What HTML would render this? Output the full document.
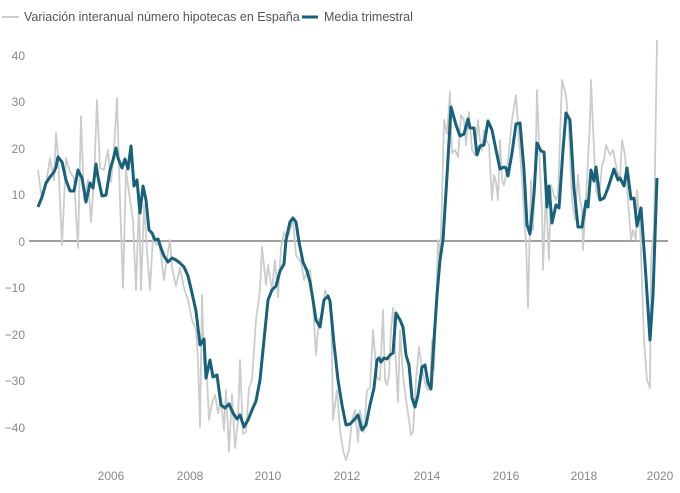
<!DOCTYPE html>
<html><head><meta charset="utf-8"><style>
body{margin:0;background:#fff;}
svg{display:block;font-family:"Liberation Sans",sans-serif;}
</style></head><body>
<svg width="680" height="493" viewBox="0 0 680 493">
<g font-size="12.5" fill="#555">
<line x1="2" y1="17" x2="19" y2="17" stroke="#ccc" stroke-width="2"/>
<text x="24" y="21">Variación interanual número hipotecas en España</text>
<line x1="302" y1="17" x2="318" y2="17" stroke="#17627a" stroke-width="3"/>
<text x="324" y="21">Media trimestral</text>
</g>
<g font-size="12" fill="#888" text-anchor="end">
<text x="25" y="60">40</text><text x="25" y="106">30</text><text x="25" y="153">20</text>
<text x="25" y="199">10</text><text x="25" y="246">0</text><text x="25" y="292">−10</text>
<text x="25" y="339">−20</text><text x="25" y="385">−30</text><text x="25" y="432">−40</text>
</g>
<g font-size="12" fill="#888" text-anchor="middle">
<text x="111" y="480">2006</text><text x="190" y="480">2008</text><text x="268" y="480">2010</text>
<text x="347" y="480">2012</text><text x="427" y="480">2014</text><text x="506" y="480">2016</text>
<text x="584" y="480">2018</text><text x="660" y="480">2020</text>
</g>
<line x1="29" y1="241" x2="668" y2="241" stroke="#666" stroke-width="1.2"/>
<polyline fill="none" stroke="#ccc" stroke-width="1.8" stroke-linejoin="round" points="38,170 42,200 46,184 50,158 54,180 56,133 58,155 62,245 66,158 70,172 74,178 78,248 81,116 84,200 88,180 91,222 94,180 97,100 100,168 104,170 108,150 111,182 114,150 117,98 120,200 123,288 126,170 130,200 133,220 136,290 139,200 141,290 144,205 147,250 150,290 153,235 156,245 159,243 161,255 164,280 167,258 170,240 172,268 176,286 180,268 184,288 188,300 192,320 196,330 198,360 200,427 202,295 204,363 207,378 209,420 212,403 215,395 218,413 221,400 224,430 226,390 229,452 232,394 235,448 238,420 240,360 243,434 246,432 249,388 252,380 256,320 260,290 262,247 266,285 268,265 272,290 275,260 278,297 281,248 284,232 287,238 290,230 293,220 296,255 298,258 301,262 304,280 307,272 310,270 313,305 316,355 319,318 322,318 325,290 328,297 331,305 333,420 337,390 340,430 343,450 346,460 349,450 352,420 355,410 358,442 360,410 364,432 367,390 370,388 373,330 377,378 380,380 383,310 385,380 387,385 389,375 391,330 393,308 395,346 398,402 400,330 403,375 406,400 409,420 411,435 413,432 416,380 419,347 422,368 425,383 428,390 430,388 432,340 434,370 436,315 438,240 440,260 442,200 444,120 447,134 450,92 452,153 455,150 458,157 461,115 464,120 466,145 469,112 472,150 475,155 478,120 480,140 482,150 484,130 486,140 489,145 492,200 494,175 496,182 498,200 500,140 502,180 504,185 507,170 509,150 512,120 516,95 519,140 522,180 525,230 526,240 528,308 531,180 533,230 536,140 537,90 540,170 542,210 543,270 546,190 548,240 549,260 551,185 554,195 556,200 558,195 560,140 562,80 566,95 569,130 572,200 575,220 578,175 580,200 582,210 583,250 586,200 590,120 591,80 594,150 596,190 599,200 602,165 604,160 606,145 610,155 613,150 617,170 620,180 622,140 625,155 626,170 628,200 631,240 633,230 636,240 637,190 640,225 644,340 647,380 650,388 651,260 654,230 657,40"/>
<polyline fill="none" stroke="#17627a" stroke-width="3" stroke-linejoin="round" points="38,207 42,197 46,183 50,177 54,172 56,167 58,157 62,162 66,180 70,191 74,191 78,170 82,178 86,202 90,183 93,188 96,164 98,177 102,196 106,195 110,170 113,160 116,148 118,158 122,168 125,159 128,169 131,146 134,186 137,180 140,213 143,186 146,200 149,230 152,233 155,240 158,239 161,248 164,256 168,262 172,258 176,260 180,263 184,267 188,276 192,293 196,311 200,345 204,339 206,378 210,360 213,377 217,375 221,405 225,408 229,404 233,413 237,419 240,415 244,427 248,420 252,410 256,401 260,380 264,340 268,300 272,290 276,286 280,271 284,264 286,240 290,222 293,218 296,222 299,242 303,262 307,271 310,282 313,300 316,320 320,327 324,300 328,296 330,301 334,344 338,380 342,405 346,425 350,424 354,420 358,415 362,430 366,425 370,405 374,388 377,360 379,358 381,362 384,358 387,359 390,355 393,353 396,313 400,320 403,327 406,355 409,365 412,398 415,407 418,395 422,367 425,365 428,383 431,389 434,340 437,295 440,260 443,240 447,176 451,107 456,125 460,136 464,134 468,119 470,128 474,128 477,155 480,146 484,145 488,121 492,130 496,150 500,169 504,167 506,168 508,176 512,153 516,124 520,123 524,170 527,225 530,234 534,194 537,143 541,151 544,152 547,207 549,186 552,223 556,205 559,208 563,150 566,113 570,120 574,188 578,227 582,227 586,201 588,207 591,170 594,181 596,167 600,200 604,198 608,188 614,169 618,180 620,178 624,186 627,168 631,199 634,198 637,226 641,208 645,263 650,340 653,295 657,178"/>
</svg>
</body></html>
